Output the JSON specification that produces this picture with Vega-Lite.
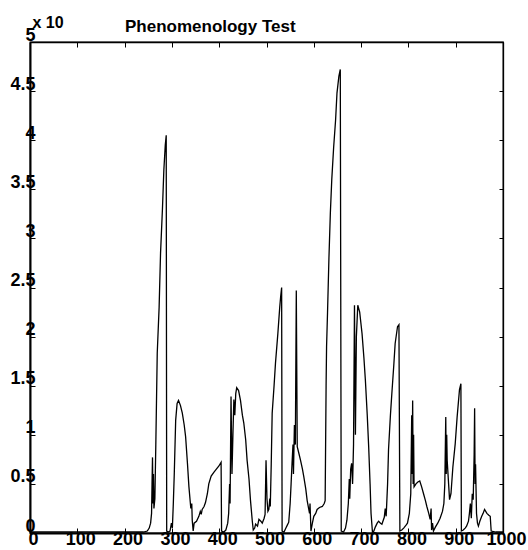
{
  "$schema": "https://vega.github.io/schema/vega-lite/v6.json",
  "width": 473,
  "height": 491,
  "autosize": {"type": "none"},
  "padding": {"left": 30, "top": 42, "right": 25, "bottom": 17},
  "background": "white",
  "config": {
    "font": "Liberation Sans",
    "view": {"stroke": "black", "strokeWidth": 1.3},
    "axis": {"grid": false, "labelColor": "black", "domainColor": "black", "tickColor": "black", "labelFont": "Liberation Sans", "labelFontWeight": "bold", "labelFontSize": 18, "labelOverlap": false, "labelFlush": false, "labelBound": false}
  },
  "title": {"text": "Phenomenology Test", "anchor": "start", "dx": 115, "offset": 0, "dy": 22, "fontSize": 17, "fontWeight": "bold", "font": "Liberation Sans", "color": "black"},
  "data": {"values": [
    {"x":0,"y":0.01},{"x":100,"y":0.01},{"x":200,"y":0.01},{"x":240,"y":0.01},{"x":248,"y":0.02},{"x":252,"y":0.05},{"x":255,"y":0.1},{"x":257,"y":0.2},{"x":258,"y":0.5},{"x":259,"y":0.77},{"x":260,"y":0.3},{"x":261,"y":0.6},{"x":262,"y":0.25},{"x":264,"y":0.35},{"x":266,"y":0.9},{"x":269,"y":1.83},{"x":273,"y":2.3},{"x":276,"y":2.85},{"x":280,"y":3.3},{"x":283,"y":3.7},{"x":286,"y":3.95},{"x":288,"y":4.05},{"x":289,"y":0.02},{"x":292,"y":0.01},{"x":296,"y":0.02},{"x":299,"y":0.1},{"x":301,"y":0.05},{"x":303,"y":0.3},{"x":305,"y":0.6},{"x":308,"y":1.15},{"x":311,"y":1.32},{"x":314,"y":1.35},{"x":318,"y":1.3},{"x":322,"y":1.22},{"x":326,"y":1.1},{"x":329,"y":0.98},{"x":333,"y":0.7},{"x":336,"y":0.47},{"x":340,"y":0.25},{"x":342,"y":0.3},{"x":343,"y":0.13},{"x":345,"y":0.02},{"x":347,"y":0.1},{"x":352,"y":0.12},{"x":357,"y":0.17},{"x":360,"y":0.22},{"x":362,"y":0.19},{"x":364,"y":0.24},{"x":368,"y":0.27},{"x":371,"y":0.31},{"x":375,"y":0.4},{"x":378,"y":0.5},{"x":383,"y":0.58},{"x":389,"y":0.62},{"x":394,"y":0.65},{"x":399,"y":0.68},{"x":404,"y":0.72},{"x":405,"y":0.02},{"x":410,"y":0.01},{"x":414,"y":0.03},{"x":418,"y":0.1},{"x":420,"y":0.2},{"x":422,"y":0.5},{"x":423,"y":0.3},{"x":425,"y":1.39},{"x":427,"y":0.6},{"x":429,"y":1.0},{"x":431,"y":1.36},{"x":433,"y":1.2},{"x":435,"y":1.42},{"x":437,"y":1.48},{"x":441,"y":1.45},{"x":445,"y":1.35},{"x":449,"y":1.2},{"x":452,"y":1.12},{"x":456,"y":0.95},{"x":459,"y":0.74},{"x":463,"y":0.55},{"x":466,"y":0.34},{"x":470,"y":0.12},{"x":472,"y":0.03},{"x":475,"y":0.05},{"x":477,"y":0.09},{"x":481,"y":0.07},{"x":484,"y":0.14},{"x":488,"y":0.12},{"x":491,"y":0.1},{"x":495,"y":0.15},{"x":497,"y":0.19},{"x":499,"y":0.74},{"x":501,"y":0.35},{"x":503,"y":0.22},{"x":505,"y":0.24},{"x":507,"y":0.35},{"x":508,"y":0.27},{"x":510,"y":0.7},{"x":512,"y":1.22},{"x":516,"y":1.5},{"x":519,"y":1.73},{"x":524,"y":2.03},{"x":528,"y":2.3},{"x":530,"y":2.41},{"x":532,"y":2.5},{"x":533,"y":0.02},{"x":537,"y":0.01},{"x":541,"y":0.05},{"x":544,"y":0.08},{"x":547,"y":0.11},{"x":550,"y":0.3},{"x":552,"y":0.5},{"x":554,"y":0.71},{"x":556,"y":0.9},{"x":557,"y":0.6},{"x":559,"y":1.1},{"x":561,"y":0.9},{"x":563,"y":2.47},{"x":565,"y":0.88},{"x":568,"y":0.82},{"x":572,"y":0.74},{"x":576,"y":0.65},{"x":579,"y":0.57},{"x":583,"y":0.45},{"x":586,"y":0.33},{"x":589,"y":0.25},{"x":591,"y":0.2},{"x":592,"y":0.3},{"x":594,"y":0.02},{"x":597,"y":0.1},{"x":600,"y":0.17},{"x":604,"y":0.2},{"x":607,"y":0.24},{"x":612,"y":0.26},{"x":618,"y":0.27},{"x":622,"y":0.3},{"x":624,"y":0.33},{"x":626,"y":1.5},{"x":627,"y":1.9},{"x":629,"y":2.24},{"x":632,"y":2.8},{"x":635,"y":3.26},{"x":638,"y":3.6},{"x":642,"y":3.93},{"x":646,"y":4.2},{"x":649,"y":4.48},{"x":653,"y":4.65},{"x":656,"y":4.72},{"x":658,"y":0.02},{"x":663,"y":0.01},{"x":667,"y":0.05},{"x":670,"y":0.13},{"x":673,"y":0.3},{"x":675,"y":0.55},{"x":676,"y":0.35},{"x":678,"y":0.65},{"x":680,"y":0.71},{"x":682,"y":0.5},{"x":684,"y":0.9},{"x":686,"y":2.32},{"x":688,"y":1.0},{"x":690,"y":2.0},{"x":693,"y":2.32},{"x":697,"y":2.25},{"x":702,"y":2.03},{"x":706,"y":1.78},{"x":709,"y":1.56},{"x":713,"y":1.2},{"x":716,"y":0.88},{"x":719,"y":0.5},{"x":721,"y":0.2},{"x":724,"y":0.01},{"x":727,"y":0.02},{"x":730,"y":0.06},{"x":734,"y":0.1},{"x":737,"y":0.12},{"x":741,"y":0.1},{"x":744,"y":0.09},{"x":749,"y":0.16},{"x":751,"y":0.25},{"x":753,"y":0.17},{"x":756,"y":0.5},{"x":758,"y":0.85},{"x":762,"y":1.2},{"x":765,"y":1.42},{"x":769,"y":1.7},{"x":772,"y":1.93},{"x":777,"y":2.1},{"x":780,"y":2.12},{"x":782,"y":0.02},{"x":786,"y":0.03},{"x":790,"y":0.05},{"x":795,"y":0.08},{"x":798,"y":0.1},{"x":802,"y":0.2},{"x":805,"y":0.4},{"x":807,"y":1.2},{"x":808,"y":0.6},{"x":809,"y":1.35},{"x":810,"y":0.5},{"x":811,"y":1.0},{"x":812,"y":0.47},{"x":816,"y":0.5},{"x":820,"y":0.52},{"x":824,"y":0.53},{"x":828,"y":0.47},{"x":832,"y":0.4},{"x":836,"y":0.33},{"x":839,"y":0.27},{"x":843,"y":0.2},{"x":846,"y":0.14},{"x":848,"y":0.25},{"x":849,"y":0.03},{"x":851,"y":0.1},{"x":853,"y":0.02},{"x":857,"y":0.06},{"x":862,"y":0.1},{"x":867,"y":0.15},{"x":872,"y":0.22},{"x":875,"y":0.3},{"x":877,"y":0.5},{"x":879,"y":1.18},{"x":880,"y":0.6},{"x":881,"y":1.0},{"x":882,"y":0.74},{"x":885,"y":0.5},{"x":887,"y":0.34},{"x":890,"y":0.4},{"x":894,"y":0.67},{"x":899,"y":0.91},{"x":903,"y":1.18},{"x":908,"y":1.46},{"x":911,"y":1.52},{"x":912,"y":0.02},{"x":916,"y":0.03},{"x":920,"y":0.05},{"x":923,"y":0.07},{"x":927,"y":0.12},{"x":929,"y":0.2},{"x":931,"y":0.3},{"x":933,"y":0.15},{"x":935,"y":0.4},{"x":937,"y":0.34},{"x":939,"y":0.8},{"x":940,"y":1.27},{"x":941,"y":0.5},{"x":942,"y":0.7},{"x":944,"y":0.2},{"x":946,"y":0.1},{"x":948,"y":0.07},{"x":951,"y":0.12},{"x":955,"y":0.17},{"x":958,"y":0.2},{"x":961,"y":0.24},{"x":966,"y":0.2},{"x":970,"y":0.18},{"x":973,"y":0.17},{"x":975,"y":0.02},{"x":985,"y":0.01},{"x":1000,"y":0.01}
  ]},
  "layer": [
    {
      "mark": {"type": "line", "color": "black", "strokeWidth": 1.3, "interpolate": "linear"},
      "encoding": {
        "x": {"field": "x", "type": "quantitative", "scale": {"domain": [0, 1000], "nice": false, "zero": false},
          "axis": {"orient": "bottom", "values": [0,100,200,300,400,500,600,700,800,900,1000], "labelExpr": "'' + datum.value", "tickSize": -5, "labelPadding": 2, "labelOffset": 3, "domainWidth": 2, "title": null}},
        "y": {"field": "y", "type": "quantitative", "scale": {"domain": [0, 5], "nice": false},
          "axis": {"orient": "left", "values": [0,0.5,1,1.5,2,2.5,3,3.5,4,4.5,5], "labelExpr": "'' + datum.value", "tickSize": -5, "labelPadding": 0, "labelOffset": -7, "domainWidth": 2,
            "title": "x 10", "titleAngle": 0, "titleAlign": "left", "titleBaseline": "alphabetic", "titleX": 2, "titleY": -15, "titleFontSize": 16, "titleFontWeight": "bold", "titleColor": "black", "titleFont": "Liberation Sans"}}
      }
    },
    {
      "mark": {"type": "line", "opacity": 0},
      "encoding": {
        "x": {"field": "x", "type": "quantitative", "scale": {"domain": [0, 1000], "nice": false, "zero": false},
          "axis": {"orient": "top", "values": [0,100,200,300,400,500,600,700,800,900,1000], "tickSize": -5, "labels": false, "domainWidth": 1.3, "title": null}},
        "y": {"field": "y", "type": "quantitative", "scale": {"domain": [0, 5], "nice": false},
          "axis": {"orient": "right", "values": [0,0.5,1,1.5,2,2.5,3,3.5,4,4.5,5], "tickSize": -4, "labels": false, "domainWidth": 1.3, "title": null}}
      }
    }
  ],
  "resolve": {"axis": {"x": "independent", "y": "independent"}}
}
